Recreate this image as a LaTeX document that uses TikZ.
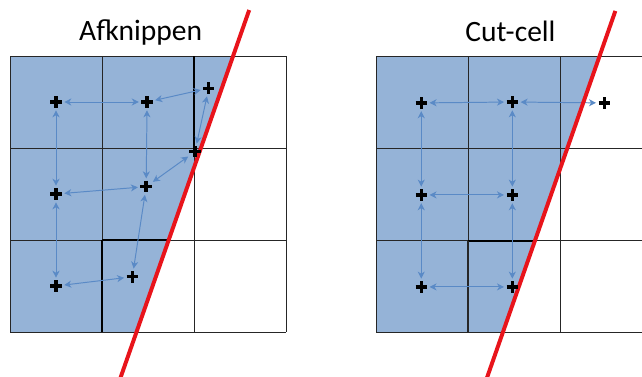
\documentclass[tikz,border=0pt]{standalone}
\usepackage{fontspec}
\setmainfont{Carlito}
\usepackage{tikz}
\usetikzlibrary{calc,arrows.meta}

\definecolor{cellfill}{HTML}{95B3D7}
\definecolor{linkblue}{HTML}{5A8AC6}
\definecolor{cutred}{HTML}{E8141B}

\begin{document}
\begin{tikzpicture}[x=2.3cm,y=-2.3cm,
    gridline/.style={draw=black!85,line width=0.7pt},
    gridthick/.style={draw=black,line width=1.3pt},
    cutline/.style={draw=cutred,line width=2.8pt},
    pt/.style={circle,inner sep=0pt,minimum size=0.4cm},
    cross/.style={draw=black,line width=2.4pt},
    link/.style={draw=linkblue,line width=0.7pt,
      {Stealth[length=5pt,width=5pt,inset=1.5pt]}-{Stealth[length=5pt,width=5pt,inset=1.5pt]}},
    title/.style={anchor=base,font=\fontsize{21}{25}\selectfont}]
  \useasboundingbox (-0.1087,-0.6087) rectangle (6.8696,3.4783);

  %% Afknippen
  \begin{scope}
    \coordinate (LT) at (2.6,-0.5);
    \coordinate (LB) at (1.2,3.5);
    \fill[cellfill] (0,0) -- ($(LT)!0.125!(LB)$) -- ($(LT)!0.875!(LB)$) -- (0,3) -- cycle;
    \foreach \i in {0,...,3}
    {
      \draw[gridline] (\i,0) -- (\i,3);
      \draw[gridline] (0,\i) -- (3,\i);
    }
    \draw[gridthick] (2,0) -- (2,1);
    \draw[gridthick] (1,2) -- ($(LT)!0.625!(LB)$);
    \draw[gridthick] (1,2) -- (1,3);
    \node[title] (TL) at (1.42,-0.17) {Afknippen};

    \node[pt] (L11) at (0.5,0.5) {};
    \node[pt] (L12) at (1.49,0.5) {};
    \node[pt] (L13) at (2.16,0.35) {};
    \node[pt] (L21) at (0.5,1.5) {};
    \node[pt] (L22) at (1.48,1.42) {};
    \node[pt] (L23) at (2.01,1.04) {};
    \node[pt] (L31) at (0.5,2.5) {};
    \node[pt] (L32) at (1.33,2.4) {};

    \foreach \a/\b in {L11/L12,L12/L13,L11/L21,L12/L22,L13/L23,L22/L23,L21/L22,L21/L31,L22/L32,L31/L32}
      \draw[link] (\a) -- (\b);

    \draw[cutline] (LT) -- (LB);
  \end{scope}

  %% Cut-cell
  \begin{scope}[shift={(3.98,0.01)}]
    \coordinate (RT) at (2.6,-0.5);
    \coordinate (RB) at (1.2,3.5);
    \fill[cellfill] (0,0) -- ($(RT)!0.125!(RB)$) -- ($(RT)!0.875!(RB)$) -- (0,3) -- cycle;
    \foreach \i in {0,...,3}
    {
      \draw[gridline] (\i,0) -- (\i,3);
      \draw[gridline] (0,\i) -- (3,\i);
    }
    \draw[gridthick] (1,2) -- ($(RT)!0.625!(RB)$);
    \draw[gridline,line width=1.1pt] (1,2) -- (1,3);
    \node[title] (TR) at (1.46,-0.17) {Cut-cell};

    \node[pt] (R11) at (0.49,0.5) {};
    \node[pt] (R12) at (1.48,0.49) {};
    \node[pt] (R13) at (2.48,0.5) {};
    \node[pt] (R21) at (0.49,1.5) {};
    \node[pt] (R22) at (1.48,1.5) {};
    \node[pt] (R31) at (0.49,2.5) {};
    \node[pt] (R32) at (1.48,2.5) {};

    \foreach \a/\b in {R11/R12,R12/R13,R11/R21,R12/R22,R21/R22,R21/R31,R22/R32,R31/R32}
      \draw[link] (\a) -- (\b);

    \draw[cutline] (RT) -- (RB);
  \end{scope}

  %% crosses on top
  \foreach \n in {L11,L12,L13,L21,L22,L23,L31,L32,R11,R12,R13,R21,R22,R31,R32}
    \draw[cross] ($(\n)+(-0.062,0)$) -- ($(\n)+(0.062,0)$)
                 ($(\n)+(0,-0.062)$) -- ($(\n)+(0,0.062)$);
\end{tikzpicture}
\end{document}
